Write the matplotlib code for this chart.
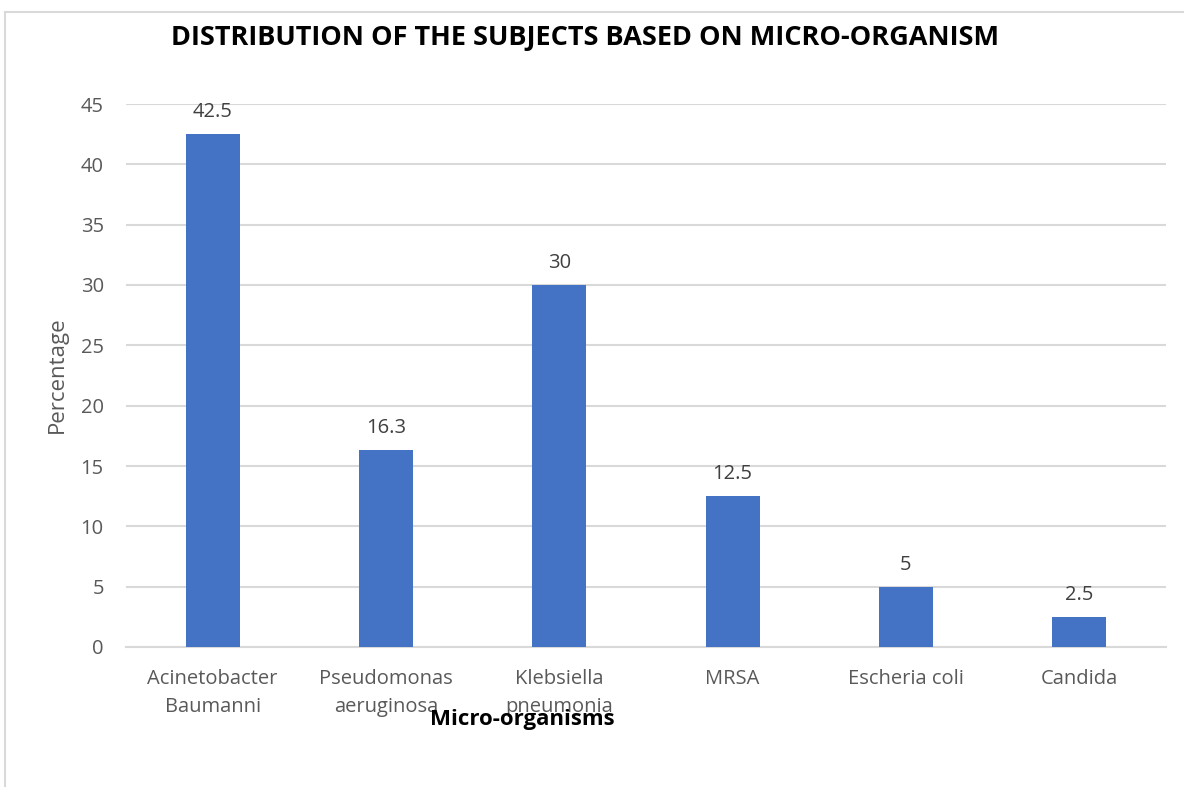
import matplotlib.pyplot as plt
import numpy as np

plt.rcParams['font.family'] = ['Open Sans', 'DejaVu Sans']

organisms = ['Acinetobacter\nBaumanni', 'Pseudomonas\naeruginosa', 'Klebsiella\npneumonia',
             'MRSA', 'Escheria coli', 'Candida']
percentages = [42.5, 16.3, 30, 12.5, 5, 2.5]
value_labels = ['42.5', '16.3', '30', '12.5', '5', '2.5']
y_ticks = [0, 5, 10, 15, 20, 25, 30, 35, 40, 45]

fig = plt.figure(figsize=(11.84, 7.87), dpi=100)
ax = fig.add_axes([126 / 1184, 1 - 647 / 787, 1040 / 1184, 543 / 787])

x = np.arange(len(organisms))
bars = ax.bar(x, percentages, width=0.31, color='#4472C4', zorder=3)

for b, lab in zip(bars, value_labels):
    ax.text(b.get_x() + b.get_width() / 2, b.get_height() + 1.0, lab,
            ha='center', va='bottom', fontsize=14.5, color='#404040')

ax.set_xlim(-0.5, len(organisms) - 0.5)
ax.set_ylim(0, 45)
ax.set_yticks(y_ticks)
ax.set_yticklabels([str(t) for t in y_ticks])
ax.set_xticks(x)
ax.set_xticklabels(organisms, linespacing=1.55)
ax.tick_params(axis='both', length=0, labelsize=14.5, labelcolor='#595959')
ax.tick_params(axis='x', pad=16)
ax.tick_params(axis='y', pad=16)

ax.grid(axis='y', color='#d9d9d9', linewidth=1.5, zorder=0)
for s in ['top', 'right', 'left']:
    ax.spines[s].set_visible(False)
ax.spines['bottom'].set_color('#d9d9d9')
ax.spines['bottom'].set_linewidth(1.5)

fig.text(585 / 1184, 1 - 38 / 787, 'DISTRIBUTION OF THE SUBJECTS BASED ON MICRO-ORGANISM',
         ha='center', va='center', fontsize=19.5, fontweight='bold', color='black')
fig.text(522 / 1184, 1 - 720 / 787, 'Micro-organisms', ha='center', va='center',
         fontsize=16, fontweight='bold', color='black')
fig.text(57 / 1184, 1 - 375 / 787, 'Percentage', ha='center', va='center',
         rotation=90, fontsize=16, color='#595959')

# outer chart frame, only the top and left edges fall inside the image
fig.add_artist(plt.Line2D([5 / 1184, 1], [1 - 12 / 787, 1 - 12 / 787], color='#d9d9d9', lw=1.5))
fig.add_artist(plt.Line2D([5 / 1184, 5 / 1184], [0, 1 - 12 / 787], color='#d9d9d9', lw=1.5))

fig.savefig('out.png', dpi=100, facecolor='white')
